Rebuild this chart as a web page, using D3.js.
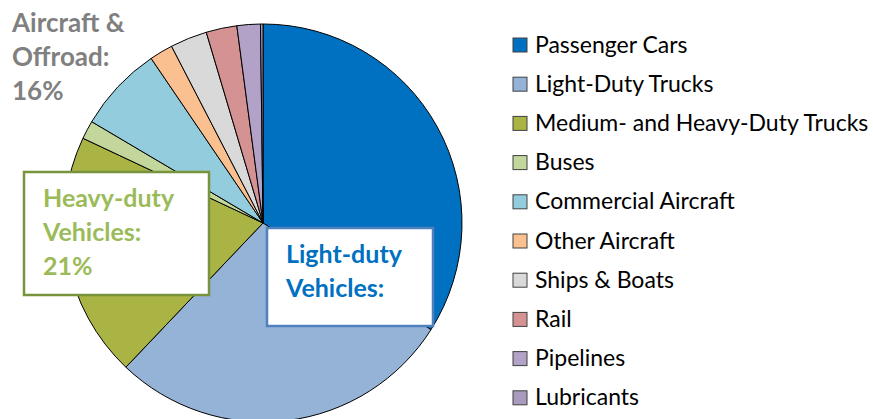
<!DOCTYPE html>
<html>
<head>
<meta charset="utf-8">
<script src="https://cdn.jsdelivr.net/npm/d3@7"></script>
<style>
  body { margin: 0; background: #fff; }
  svg { display: block; font-family: Lato, "Open Sans", sans-serif; }
</style>
</head>
<body>
<div id="chart"></div>
<script>
// transportation emissions by source (%)
var categories = ["Passenger Cars", "Light-Duty Trucks", "Medium- and Heavy-Duty Trucks", "Buses",
                  "Commercial Aircraft", "Other Aircraft", "Ships & Boats", "Rail", "Pipelines", "Lubricants"];
var shares = [34.0, 28.1, 19.9, 1.5, 7.0, 1.9, 3.0, 2.5, 1.9, 0.2];
var colors = ["#0070C0", "#95B3D7", "#A9B444", "#C3D69B", "#93CDDD", "#FAC090", "#D9D9D9", "#D49392", "#B3A2C7", "#A99BBD"];

var width = 873, height = 419;
var cx = 263, cy = 223, radius = 199;

var data = categories.map(function(c, i) { return {name: c, value: shares[i], color: colors[i]}; });

var svg = d3.select("#chart").append("svg")
    .attr("width", width)
    .attr("height", height);

var pie = d3.pie().sort(null).value(function(d) { return d.value; });
var arc = d3.arc().innerRadius(0).outerRadius(radius);

var g = svg.append("g").attr("transform", "translate(" + cx + "," + cy + ")");
g.selectAll("path")
    .data(pie(data))
  .enter().append("path")
    .attr("d", arc)
    .attr("fill", function(d) { return d.data.color; })
    .attr("stroke", "#000")
    .attr("stroke-width", 1)
    .attr("stroke-linejoin", "round");

// callout labels
function callout(lines, x, y, color, size, box) {
    if (box) {
        svg.append("rect")
            .attr("x", box.x).attr("y", box.y)
            .attr("width", box.w).attr("height", box.h)
            .attr("fill", "#fff")
            .attr("stroke", box.stroke)
            .attr("stroke-width", 2.5);
    }
    var t = svg.append("text")
        .attr("x", x).attr("y", y)
        .attr("fill", color)
        .style("font-weight", "bold")
        .style("font-size", size + "px");
    lines.forEach(function(l, i) {
        t.append("tspan").attr("x", x).attr("dy", i ? 34 : 0).text(l);
    });
}

callout(["Aircraft &", "Offroad:", "16%"], 12, 32, "#808080", 26, null);
callout(["Heavy-duty", "Vehicles:", "21%"], 43, 207, "#9BBB59", 25,
        {x: 24, y: 172, w: 185, h: 123, stroke: "#77933C"});
callout(["Light-duty", "Vehicles:"], 286, 263, "#0070C0", 25,
        {x: 267, y: 228, w: 166, h: 98, stroke: "#4F81BD"});

// legend
var legend = svg.append("g").attr("transform", "translate(513,45)");
var row = legend.selectAll("g")
    .data(data)
  .enter().append("g")
    .attr("transform", function(d, i) { return "translate(0," + (i * 39.2) + ")"; });

row.append("rect")
    .attr("x", 0).attr("y", -7)
    .attr("width", 14).attr("height", 14)
    .attr("fill", function(d) { return d.color; })
    .attr("stroke", "#404040")
    .attr("stroke-width", 1);

row.append("text")
    .attr("x", 22).attr("y", 7.5)
    .style("font-size", "23px")
    .attr("fill", "#000")
    .text(function(d) { return d.name; });
</script>
</body>
</html>
